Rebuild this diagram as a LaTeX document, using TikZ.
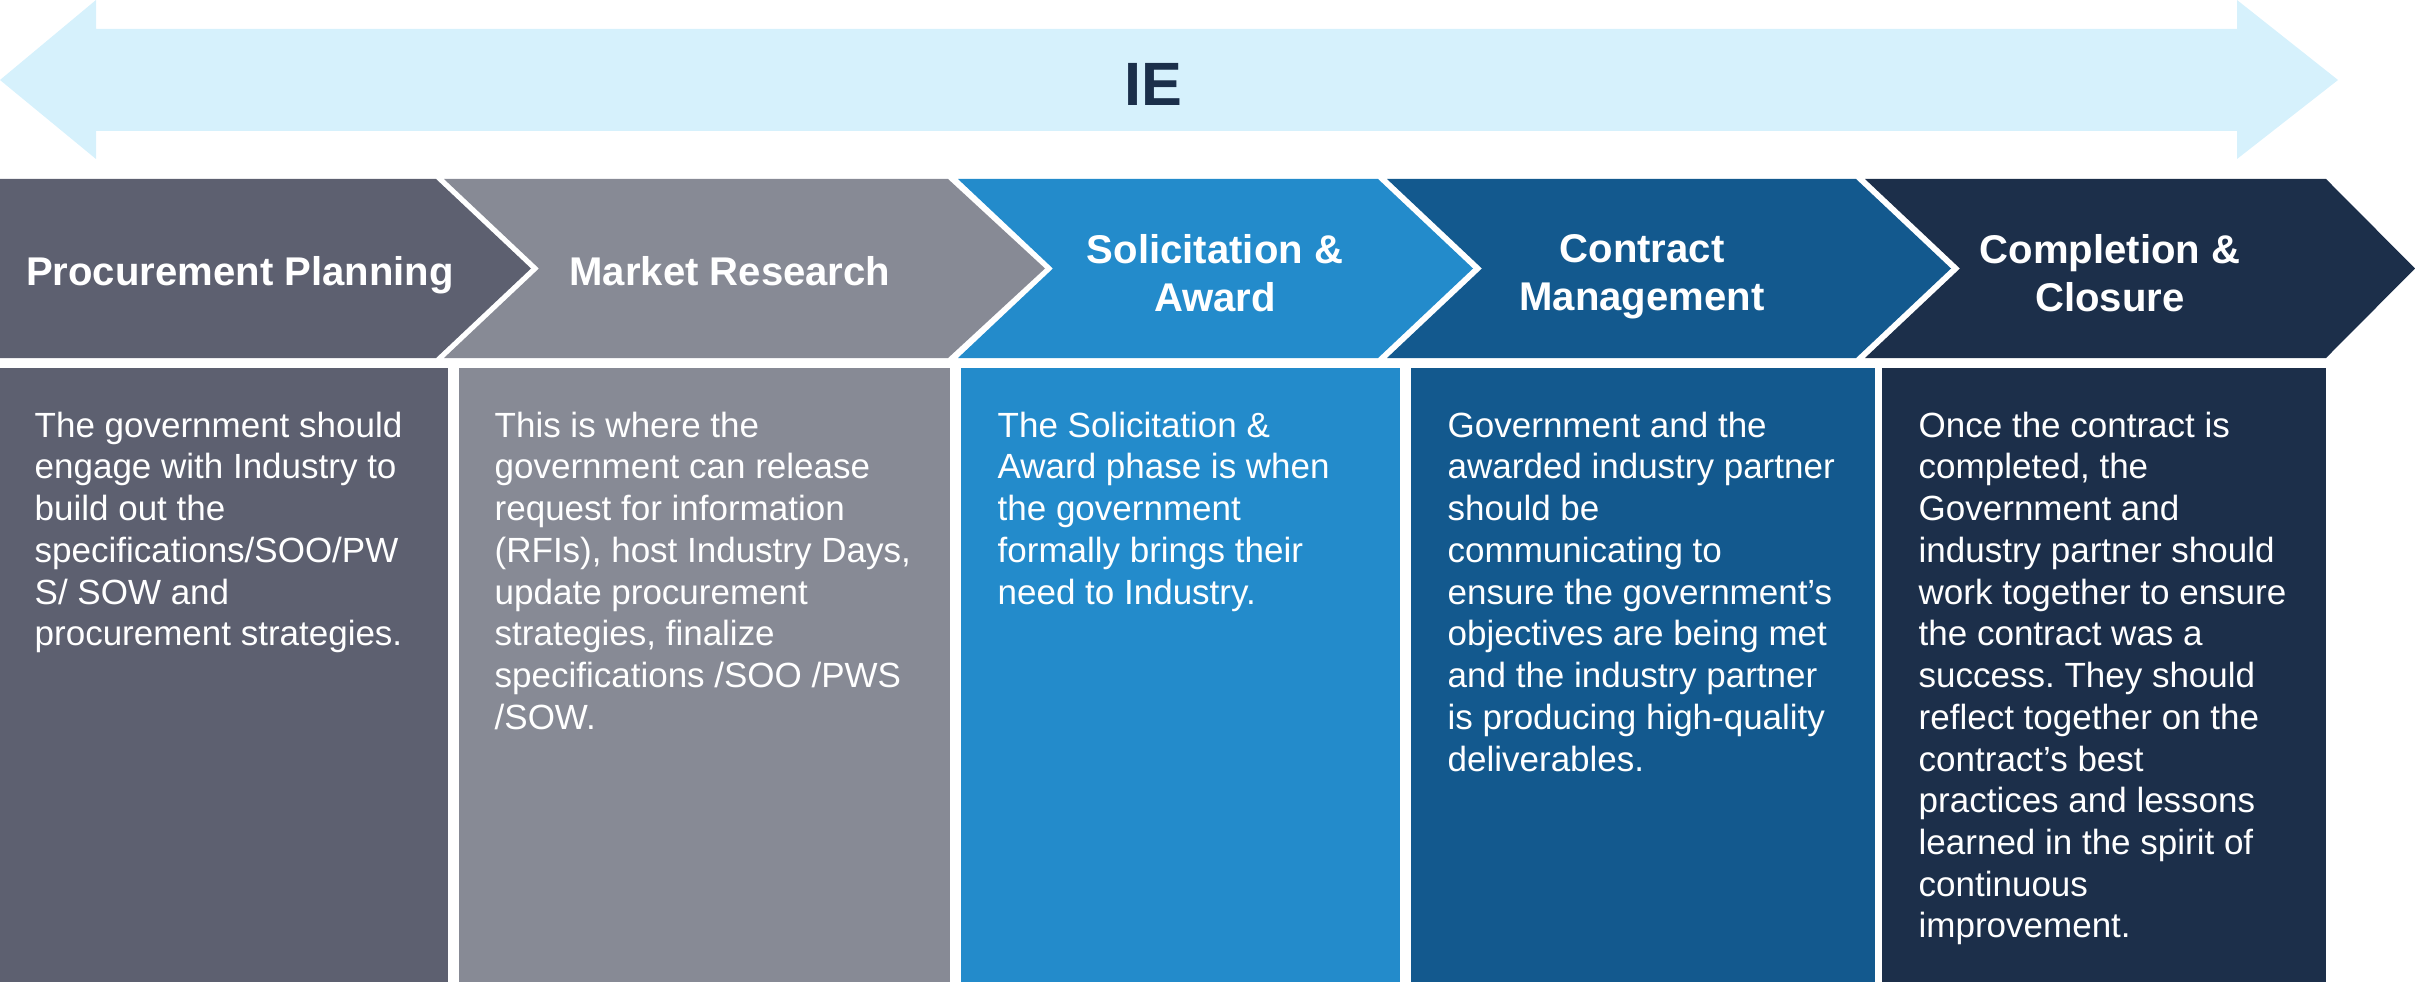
\documentclass[tikz,border=0pt]{standalone}
\usepackage{fontspec}
\setmainfont{Liberation Sans}
\frenchspacing
\definecolor{ieband}{HTML}{D6F1FC}
\definecolor{ietext}{HTML}{1B2F4A}
\definecolor{planning}{HTML}{5D6070}
\definecolor{research}{HTML}{878A95}
\definecolor{award}{HTML}{238BCB}
\definecolor{management}{HTML}{13598E}
\definecolor{closure}{HTML}{1C2F4A}

\begin{document}
\begin{tikzpicture}[x=0.01cm,y=-0.01cm,
  head/.style={anchor=north,inner sep=0pt,text=white,align=center,font=\fontsize{11.4pt}{13.7pt}\selectfont\bfseries},
  body/.style={anchor=north west,inner sep=0pt,text=white,align=left,font=\fontsize{9.95pt}{11.87pt}\selectfont}]
\useasboundingbox (0,0) rectangle (2415,982);
\fill[ieband] (0,80) -- (96,0) -- (96,29) -- (2237,29) -- (2237,0) -- (2338,80) -- (2237,159) -- (2237,131) -- (96,131) -- (96,159) -- cycle;
\node[inner sep=0pt,text=ietext,font=\fontsize{17.4pt}{20pt}\selectfont\bfseries] (ie) at (1153,84) {IE};
\fill[planning] (0,179) -- (436,179) -- (531,268.5) -- (436,358) -- (0,358) -- cycle;
\fill[research] (444,179) -- (948,179) -- (1045,268.5) -- (948,358) -- (444,358) -- (539,268.5) -- cycle;
\fill[award] (958,179) -- (1378,179) -- (1473,268.5) -- (1378,358) -- (958,358) -- (1053,268.5) -- cycle;
\fill[management] (1387,179) -- (1856,179) -- (1951,268.5) -- (1856,358) -- (1387,358) -- (1482,268.5) -- cycle;
\fill[closure] (1865,179) -- (2326,179) -- (2415,268.5) -- (2326,358) -- (1865,358) -- (1960,268.5) -- cycle;
\fill[planning] (0,368) rectangle (448,982);
\fill[research] (459,368) rectangle (950,982);
\fill[award] (961,368) rectangle (1400,982);
\fill[management] (1411,368) rectangle (1875,982);
\fill[closure] (1882,368) rectangle (2326,982);
\node[head] (pp) at (240,256) {Procurement Planning};
\node[head] (mr) at (730,256) {Market Research};
\node[head] (sa) at (1215,234) {Solicitation \&\\Award};
\node[head] (cm) at (1642,234) {Contract\\Management};
\node[head] (cc) at (2110,234) {Completion \&\\Closure};
\node[body] (ppText) at (34,411) {The government should\\engage with Industry to\\build out the\\specifications/SOO/PW\\S/ SOW and\\procurement strategies.};
\node[body] (mrText) at (494,411) {This is where the\\government can release\\request for information\\(RFIs), host Industry Days,\\update procurement\\strategies, finalize\\specifications /SOO /PWS\\/SOW.};
\node[body] (saText) at (997,411) {The Solicitation \&\\Award phase is when\\the government\\formally brings their\\need to Industry.};
\node[body] (cmText) at (1447,411) {Government and the\\awarded industry partner\\should be\\communicating to\\ensure the government’s\\objectives are being met\\and the industry partner\\is producing high-quality\\deliverables.};
\node[body] (ccText) at (1918,411) {Once the contract is\\completed, the\\Government and\\industry partner should\\work together to ensure\\the contract was a\\success. They should\\reflect together on the\\contract’s best\\practices and lessons\\learned in the spirit of\\continuous\\improvement.};
\end{tikzpicture}
\end{document}
